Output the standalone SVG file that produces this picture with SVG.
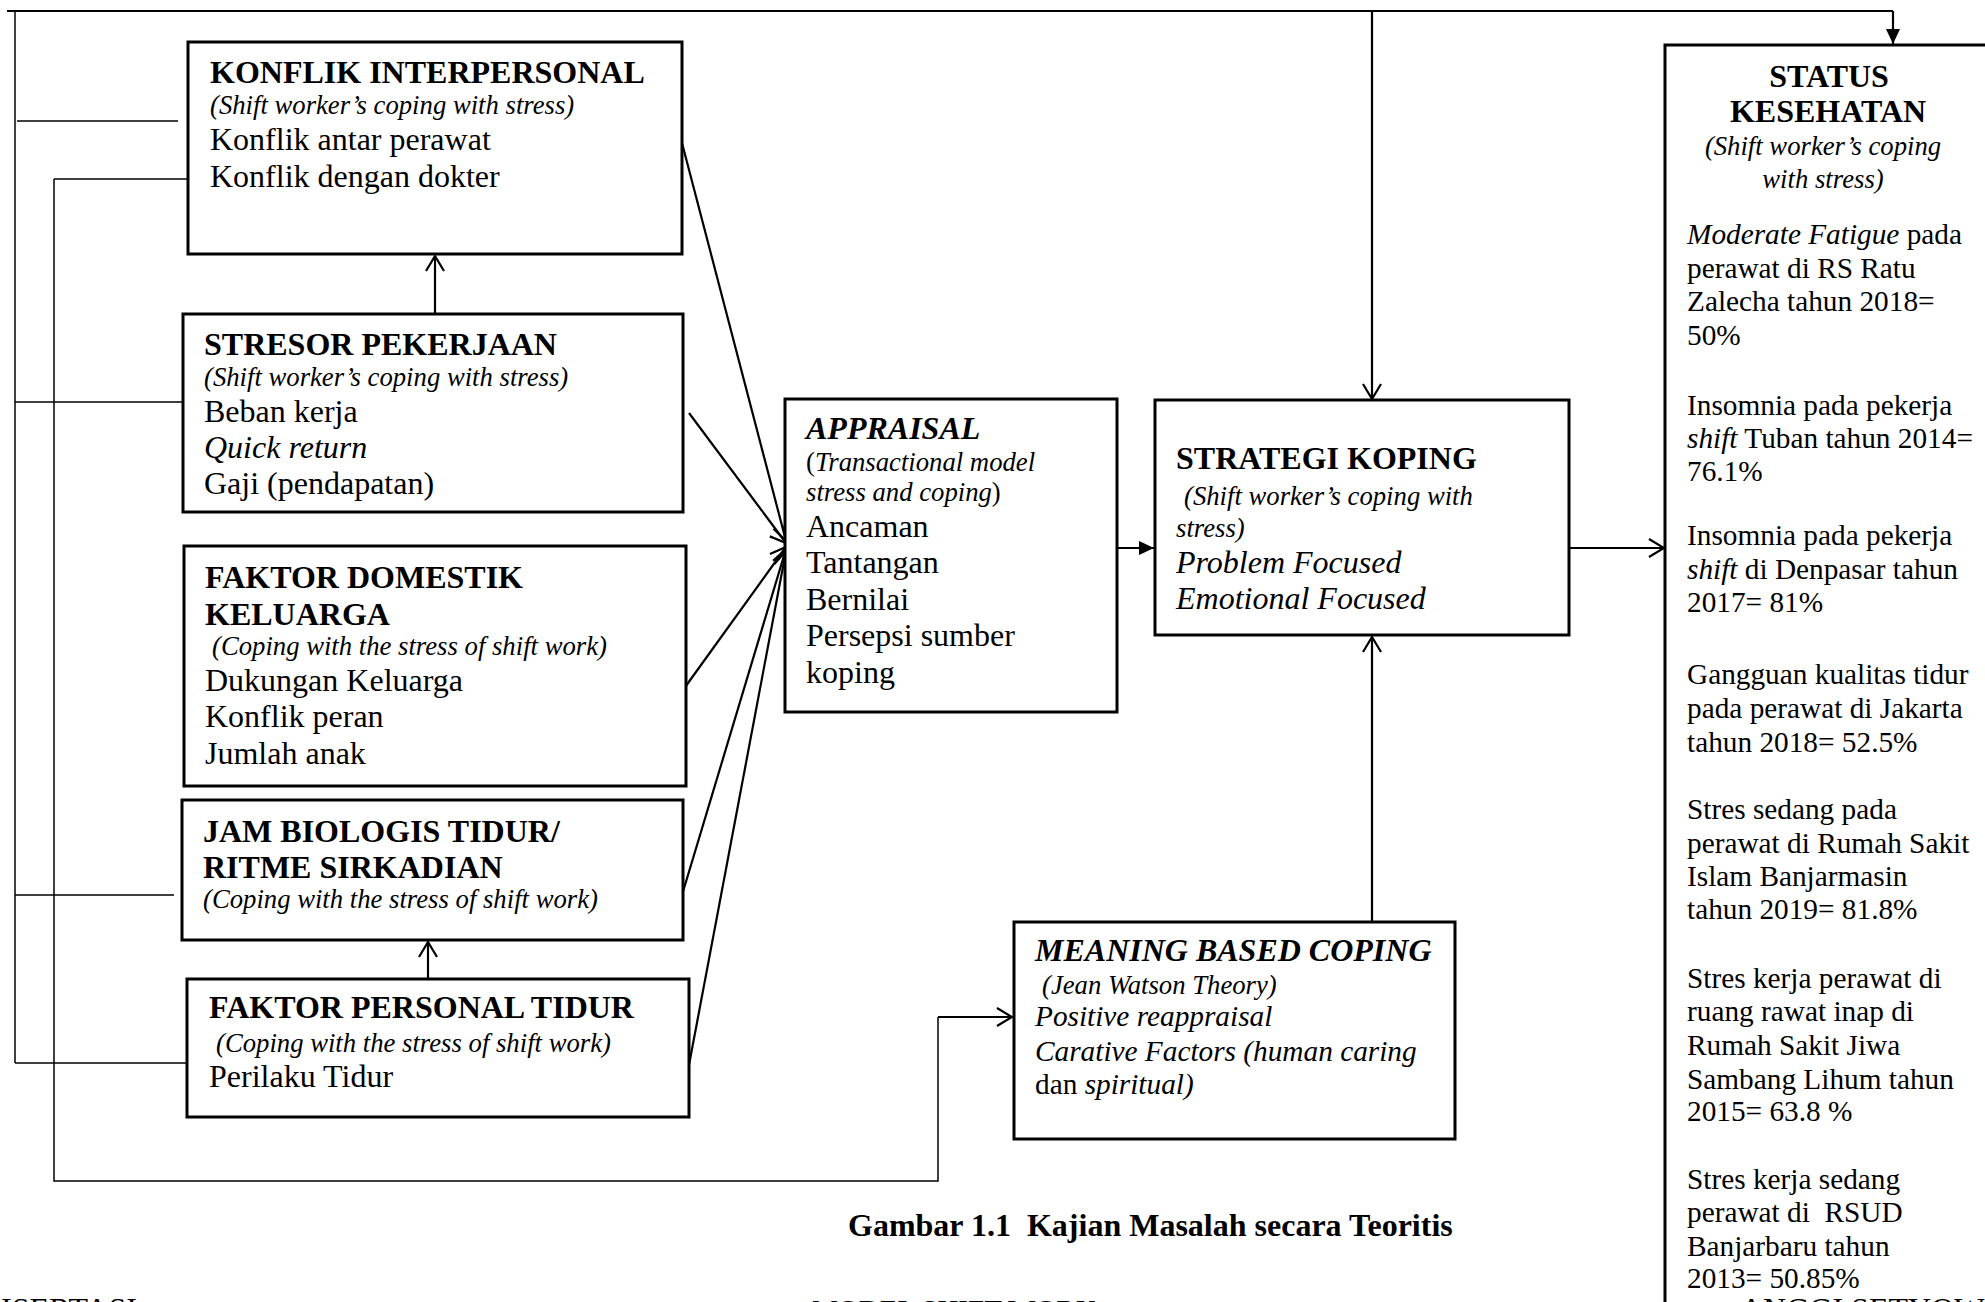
<svg xmlns="http://www.w3.org/2000/svg" width="1985" height="1302" viewBox="0 0 1985 1302">
<style>
text{font-family:"Liberation Serif","Times New Roman",serif;fill:#000}
.h{font-size:32px;font-weight:bold}
.hi{font-size:32px;font-weight:bold;font-style:italic}
.b{font-size:32px}
.bi{font-size:32px;font-style:italic}
.i{font-size:26.7px;font-style:italic}
.s{font-size:29.3px}
.si{font-size:29.3px;font-style:italic}
.box{fill:#fff;stroke:#000;stroke-width:3}
.c{fill:none;stroke:#000;stroke-width:2.2}
.thin{fill:none;stroke:#000;stroke-width:1.5}
.it{font-style:italic}
.up{font-style:normal}
</style>
<defs>
<marker id="open" markerUnits="userSpaceOnUse" markerWidth="18" markerHeight="22" viewBox="0 0 18 22" refX="16" refY="11" orient="auto">
<path d="M1,2 L16,11 L1,20" fill="none" stroke="#000" stroke-width="2.2"/>
</marker>
<marker id="fill" markerUnits="userSpaceOnUse" markerWidth="16" markerHeight="16" viewBox="0 0 16 16" refX="15" refY="8" orient="auto">
<path d="M0,1 L15,8 L0,15 Z" fill="#000"/>
</marker>
</defs>
<rect width="1985" height="1302" fill="#fff"/>

<g id="connectors">
<path class="c" d="M7,11 H1893"/>
<path class="c" d="M1893,11 V44" marker-end="url(#fill)"/>
<path class="c" d="M1372,11 V399" marker-end="url(#open)"/>
<path class="thin" d="M15,10 V1063"/>
<path class="thin" d="M17,121 H178"/>
<path class="thin" d="M15,402 H183"/>
<path class="thin" d="M15,895 H174"/>
<path class="thin" d="M15,1063 H187"/>
<path class="thin" d="M54,179 H188"/>
<path class="thin" d="M54,179 V1181 H938 V1017"/>
<path class="c" d="M938,1017 H1012" marker-end="url(#open)"/>
<path class="c" d="M435,314 V256" marker-end="url(#open)"/>
<path class="c" d="M428,979 V942" marker-end="url(#open)"/>
<path class="c" d="M682,143 L786,541" marker-end="url(#open)"/>
<path class="c" d="M689,413 L786,543" marker-end="url(#open)"/>
<path class="c" d="M683,690 L786,547" marker-end="url(#open)"/>
<path class="c" d="M682,895 L786,549" marker-end="url(#open)"/>
<path class="c" d="M689,1065 L786,551" marker-end="url(#open)"/>
<path class="c" d="M1117,548 H1154" marker-end="url(#fill)"/>
<path class="c" d="M1569,548 H1664" marker-end="url(#open)"/>
<path class="c" d="M1372,922 V637" marker-end="url(#open)"/>
</g>

<g id="konflik">
<rect class="box" x="188" y="42" width="494" height="212"/>
<text class="h" x="210" y="83">KONFLIK INTERPERSONAL</text>
<text class="i" x="210" y="114">(Shift worker’s coping with stress)</text>
<text class="b" x="210" y="150">Konflik antar perawat</text>
<text class="b" x="210" y="187">Konflik dengan dokter</text>
</g>

<g id="stresor">
<rect class="box" x="183" y="314" width="500" height="198"/>
<text class="h" x="204" y="355">STRESOR PEKERJAAN</text>
<text class="i" x="204" y="386">(Shift worker’s coping with stress)</text>
<text class="b" x="204" y="422">Beban kerja</text>
<text class="bi" x="204" y="458">Quick return</text>
<text class="b" x="204" y="494">Gaji (pendapatan)</text>
</g>

<g id="domestik">
<rect class="box" x="184" y="546" width="502" height="240"/>
<text class="h" x="205" y="588">FAKTOR DOMESTIK</text>
<text class="h" x="205" y="625">KELUARGA</text>
<text class="i" x="212" y="655">(Coping with the stress of shift work)</text>
<text class="b" x="205" y="691">Dukungan Keluarga</text>
<text class="b" x="205" y="727">Konflik peran</text>
<text class="b" x="205" y="764">Jumlah anak</text>
</g>

<g id="jam">
<rect class="box" x="182" y="800" width="501" height="140"/>
<text class="h" x="203" y="842">JAM BIOLOGIS TIDUR/</text>
<text class="h" x="203" y="878">RITME SIRKADIAN</text>
<text class="i" x="203" y="908">(Coping with the stress of shift work)</text>
</g>

<g id="personal">
<rect class="box" x="187" y="979" width="502" height="138"/>
<text class="h" x="209" y="1018">FAKTOR PERSONAL TIDUR</text>
<text class="i" x="216" y="1052">(Coping with the stress of shift work)</text>
<text class="b" x="209" y="1087">Perilaku Tidur</text>
</g>

<g id="appraisal">
<rect class="box" x="785" y="399" width="332" height="313"/>
<text class="hi" x="806" y="439">APPRAISAL</text>
<text class="i" x="806" y="471"><tspan class="up">(</tspan>Transactional model</text>
<text class="i" x="806" y="501">stress and coping<tspan class="up">)</tspan></text>
<text class="b" x="806" y="537">Ancaman</text>
<text class="b" x="806" y="573">Tantangan</text>
<text class="b" x="806" y="610">Bernilai</text>
<text class="b" x="806" y="646">Persepsi sumber</text>
<text class="b" x="806" y="683">koping</text>
</g>

<g id="strategi">
<rect class="box" x="1155" y="400" width="414" height="235"/>
<text class="h" x="1176" y="469">STRATEGI KOPING</text>
<text class="i" x="1184" y="505">(Shift worker’s coping with</text>
<text class="i" x="1176" y="537">stress)</text>
<text class="bi" x="1176" y="573">Problem Focused</text>
<text class="bi" x="1176" y="609">Emotional Focused</text>
</g>

<g id="meaning">
<rect class="box" x="1014" y="922" width="441" height="217"/>
<text class="hi" x="1035" y="961">MEANING BASED COPING</text>
<text class="i" x="1042" y="994">(Jean Watson Theory)</text>
<text class="si" x="1035" y="1026">Positive reappraisal</text>
<text class="si" x="1035" y="1061">Carative Factors (human caring</text>
<text class="s" x="1035" y="1094">dan <tspan class="it">spiritual)</tspan></text>
</g>

<g id="status">
<rect class="box" x="1665" y="45" width="400" height="1400"/>
<text class="h" x="1829" y="87" text-anchor="middle">STATUS</text>
<text class="h" x="1828" y="122" text-anchor="middle">KESEHATAN</text>
<text class="i" x="1823" y="155" text-anchor="middle">(Shift worker’s coping</text>
<text class="i" x="1823" y="188" text-anchor="middle">with stress)</text>
<text class="s" x="1687" y="244"><tspan class="it">Moderate Fatigue</tspan> pada</text>
<text class="s" x="1687" y="278">perawat di RS Ratu</text>
<text class="s" x="1687" y="311">Zalecha tahun 2018=</text>
<text class="s" x="1687" y="345">50%</text>
<text class="s" x="1687" y="415">Insomnia pada pekerja</text>
<text class="s" x="1687" y="448"><tspan class="it">shift</tspan> Tuban tahun 2014=</text>
<text class="s" x="1687" y="481">76.1%</text>
<text class="s" x="1687" y="545">Insomnia pada pekerja</text>
<text class="s" x="1687" y="579"><tspan class="it">shift</tspan> di Denpasar tahun</text>
<text class="s" x="1687" y="612">2017= 81%</text>
<text class="s" x="1687" y="684">Gangguan kualitas tidur</text>
<text class="s" x="1687" y="718">pada perawat di Jakarta</text>
<text class="s" x="1687" y="752">tahun 2018= 52.5%</text>
<text class="s" x="1687" y="819">Stres sedang pada</text>
<text class="s" x="1687" y="853">perawat di Rumah Sakit</text>
<text class="s" x="1687" y="886">Islam Banjarmasin</text>
<text class="s" x="1687" y="919">tahun 2019= 81.8%</text>
<text class="s" x="1687" y="988">Stres kerja perawat di</text>
<text class="s" x="1687" y="1021">ruang rawat inap di</text>
<text class="s" x="1687" y="1055">Rumah Sakit Jiwa</text>
<text class="s" x="1687" y="1089">Sambang Lihum tahun</text>
<text class="s" x="1687" y="1121">2015= 63.8 %</text>
<text class="s" x="1687" y="1189">Stres kerja sedang</text>
<text class="s" x="1687" y="1222" xml:space="preserve">perawat di  RSUD</text>
<text class="s" x="1687" y="1256">Banjarbaru tahun</text>
<text class="s" x="1687" y="1288">2013= 50.85%</text>
</g>

<g id="caption">
<text class="h" x="848" y="1236" xml:space="preserve">Gambar 1.1  Kajian Masalah secara Teoritis</text>
</g>

<g id="footer">
<text class="b" x="1" y="1320">ISERTASI</text>
<text class="b" x="812" y="1320" style="font-size:29px">MODEL SHIFT WORK</text>
<text class="b" x="1740" y="1320">ANGGI SETYOW</text>
</g>
</svg>
